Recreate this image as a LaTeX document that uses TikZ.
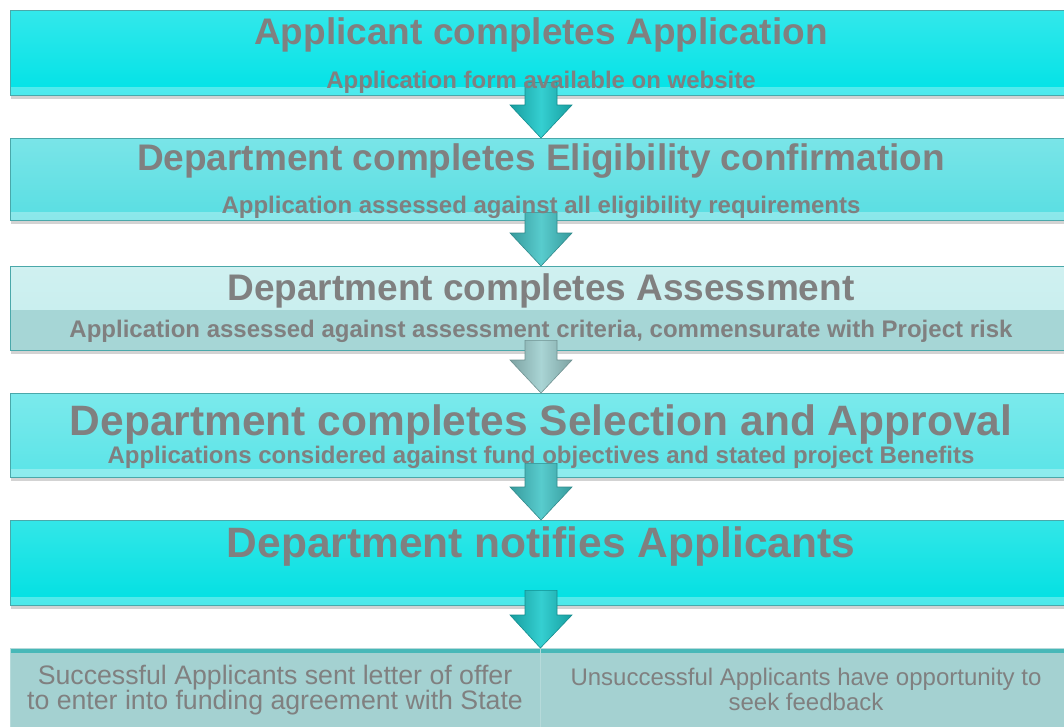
\documentclass[tikz,border=0pt]{standalone}
\usepackage{fontspec}
\setmainfont{Liberation Sans}
\usetikzlibrary{arrows.meta, calc, shadows}
\definecolor{textgray}{RGB}{128,128,128}
\definecolor{boxedge}{RGB}{74,168,170}
\definecolor{cyanA}{RGB}{0,226,230}
\definecolor{cyanB}{RGB}{88,222,226}
\definecolor{paleA}{RGB}{196,237,237}
\definecolor{paleB}{RGB}{166,214,214}
\definecolor{cyanD}{RGB}{90,228,231}
\definecolor{cyanE}{RGB}{0,224,226}
\definecolor{greyF}{RGB}{164,209,209}
\definecolor{stripF}{RGB}{72,184,184}
\definecolor{arrowA}{RGB}{30,202,204}
\definecolor{arrowB}{RGB}{70,198,200}
\definecolor{arrowC}{RGB}{160,208,208}

\begin{document}
\begin{tikzpicture}[
  x=1pt, y=-1pt,
  stepbox/.style={draw=boxedge, anchor=north west, inner sep=0,
    minimum width=1070pt, top color=#1!80!white, bottom color=#1,
    drop shadow={shadow xshift=1pt, shadow yshift=-4pt, opacity=0.35},
    path picture={
      \fill[white, opacity=0.3] (path picture bounding box.south west)
        rectangle ([yshift=8pt]path picture bounding box.south east);}},
  splitbox/.style={draw=greyF!80!white, anchor=north west, inner sep=0,
    minimum height=80pt, fill=greyF,
    path picture={
      \fill[stripF] (path picture bounding box.north west)
        rectangle ([yshift=-5pt]path picture bounding box.north east);}},
  title/.style={font=\fontsize{37}{40}\selectfont\bfseries, text=textgray,
    anchor=base, inner sep=0},
  bigtitle/.style={title, font=\fontsize{42.5}{45}\selectfont\bfseries},
  subtitle/.style={font=\fontsize{24}{26}\selectfont\bfseries, text=textgray,
    anchor=base, inner sep=0},
  outcome/.style={font=\fontsize{#1}{25}\selectfont, text=textgray,
    align=center, inner sep=0},
  flowarrow/.style={draw=#1!70!black, line width=0.6pt,
    left color=#1!78!black, right color=#1!78!black, middle color=#1!90!white,
    to path={let \p1=(\tikztostart), \p2=(\tikztotarget) in
      (\x1-16pt,\y1) -- (\x1+16pt,\y1) -- (\x1+16pt,\y2+33pt)
      -- (\x1+31pt,\y2+33pt) -- (\x2,\y2) -- (\x1-31pt,\y2+33pt)
      -- (\x1-16pt,\y2+33pt) -- cycle}}
]
\useasboundingbox (0,0) rectangle (1064,726);

% Step boxes
\node[stepbox=cyanA, minimum height=85pt] (b1) at (10,10) {};
\node[stepbox=cyanB, minimum height=82pt] (b2) at (10,138) {};
\node[stepbox=paleA, minimum height=84pt,
  path picture={
    \fill[paleB] ([yshift=40pt]path picture bounding box.south west)
      rectangle (path picture bounding box.south east);}] (b3) at (10,266) {};
\node[stepbox=cyanD, minimum height=84pt] (b4) at (10,393) {};
\node[stepbox=cyanE, minimum height=85pt] (b5) at (10,520) {};

% Outcome boxes
\node[splitbox, minimum width=530pt] (b6l) at (10,648) {};
\node[splitbox, minimum width=540pt] (b6r) at (540,648) {};

% Arrows between steps
\coordinate (mid) at (541,0);
\draw[flowarrow=arrowA] ([yshift=13pt]b1.south -| mid) to (b2.north -| mid);
\draw[flowarrow=arrowB] ([yshift=8pt]b2.south -| mid) to (b3.north -| mid);
\draw[flowarrow=arrowC] ([yshift=10pt]b3.south -| mid) to (b4.north -| mid);
\draw[flowarrow=arrowB] ([yshift=14pt]b4.south -| mid) to (b5.north -| mid);
\draw[flowarrow=arrowA] ([yshift=15pt]b5.south -| mid) to (b6l.north east);

% Texts
\node[title] (t1) at (541,44) {Applicant completes Application};
\node[subtitle] (s1) at (541,88) {Application form available on website};
\node[title] (t2) at (541,170) {Department completes Eligibility confirmation};
\node[subtitle] (s2) at (541,213) {Application assessed against all eligibility requirements};
\node[title] (t3) at (541,300) {Department completes Assessment};
\node[subtitle] (s3) at (541,337) {Application assessed against assessment criteria, commensurate with Project risk};
\node[bigtitle] (t4) at (541,435) {Department completes Selection and Approval};
\node[subtitle] (s4) at (541,463) {Applications considered against fund objectives and stated project Benefits};
\node[bigtitle] (t5) at (541,557) {Department notifies Applicants};

\node[outcome=26.7] (o1) at (275,690) {Successful Applicants sent letter of offer\\to enter into funding agreement with State};
\node[outcome=24] (o2) at (806,689) {Unsuccessful Applicants have opportunity to\\seek feedback};
\end{tikzpicture}
\end{document}
